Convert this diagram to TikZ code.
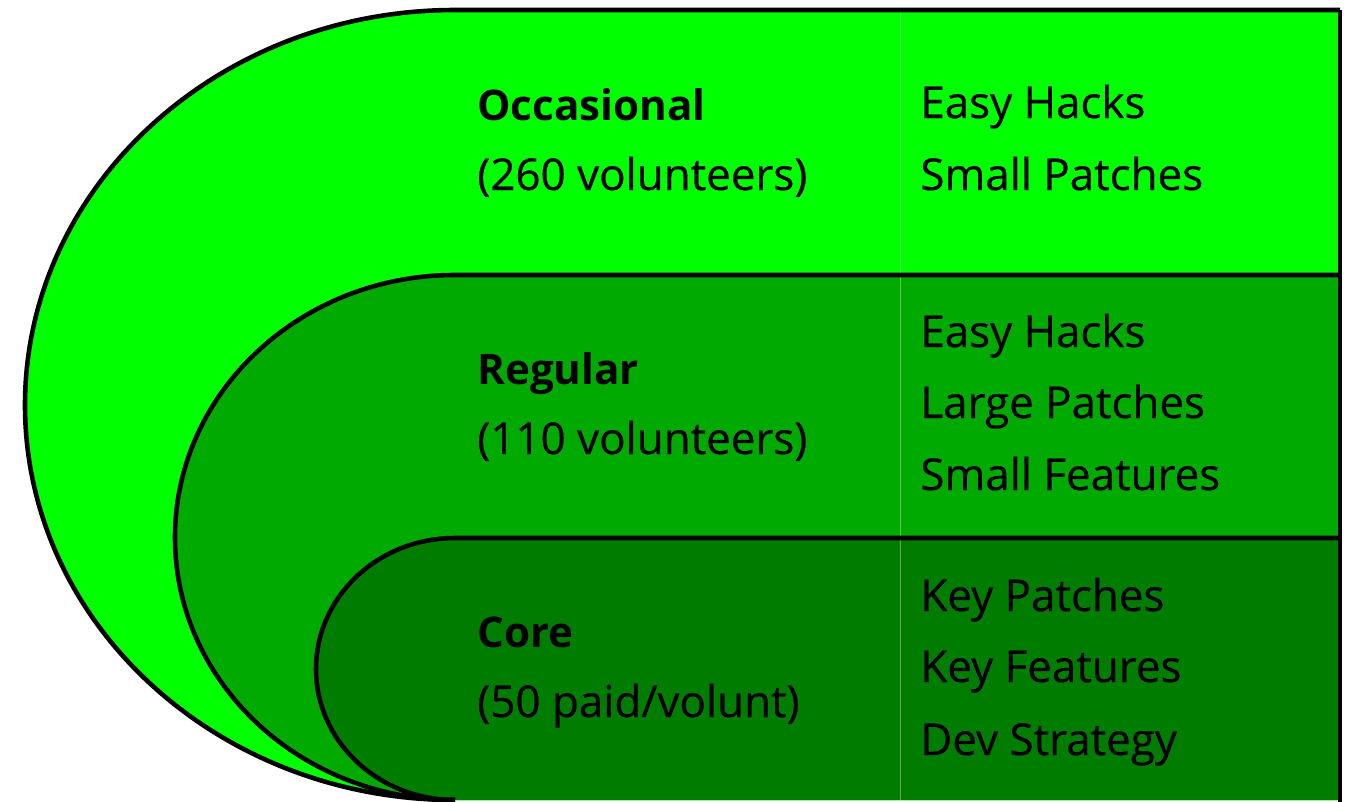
\documentclass[tikz,border=0pt]{standalone}
\usepackage{fontspec}
\setmainfont{Open Sans}
\newfontfamily\plainfont[FakeBold=0.5]{Open Sans}

\definecolor{occgreen}{RGB}{0,255,0}
\definecolor{reggreen}{RGB}{0,170,0}
\definecolor{coregreen}{RGB}{0,125,0}

\begin{document}
\begin{tikzpicture}[x=0.02cm,y=0.02cm,
	band/.style={line width=2.6pt,draw=black},
	group/.style={anchor=base west,inner sep=0pt,font=\plainfont\fontsize{25}{28}\selectfont},
	title/.style={anchor=base west,inner sep=0pt,font=\bfseries\fontsize{24}{28}\selectfont},
	task/.style={anchor=base west,inner sep=0pt,font=\plainfont\fontsize{25}{28}\selectfont}]

	\useasboundingbox (0,0) rectangle (1361,-801);
	\clip (0,0) rectangle (1361,-801);

	%bands
	\fill[occgreen] (1340,-10) -- (455,-10) arc[start angle=90,end angle=270,x radius=430,y radius=395] -- (1340,-800) -- cycle;
	\fill[reggreen] (1340,-275) -- (455,-275) arc[start angle=90,end angle=270,x radius=280,y radius=262.5] -- (1340,-800) -- cycle;
	\fill[coregreen] (1340,-538) -- (455,-538) arc[start angle=90,end angle=270,x radius=139,y radius=131] -- (1340,-800) -- cycle;

	%column divider
	\coordinate (divtop) at (900,-10);
	\coordinate (divbot) at (900,-801);
	\draw[white,opacity=0.35,line width=0.5pt] (divtop) -- (divbot);

	%outlines
	\draw[band] (1340,-10) -- (455,-10) arc[start angle=90,end angle=270,x radius=430,y radius=395];
	\draw[band] (1340,-275) -- (455,-275) arc[start angle=90,end angle=270,x radius=280,y radius=262.5];
	\draw[band] (1340,-538) -- (455,-538) arc[start angle=90,end angle=270,x radius=139,y radius=131];
	\draw[band] (1340,-10) -- (1340,-810);

	%groups
	\node[title] (occ) at (477,-120) {Occasional};
	\node[group] (occN) at (477,-190) {(260 volunteers)};
	\node[title] (reg) at (477,-384) {Regular};
	\node[group] (regN) at (477,-454) {(110 volunteers)};
	\node[title] (core) at (477,-647) {Core};
	\node[group] (coreN) at (477,-717) {(50 paid/volunt)};

	%tasks
	\node[task] (occA) at (920,-118) {Easy Hacks};
	\node[task] (occB) at (920,-190) {Small Patches};
	\node[task] (regA) at (920,-347) {Easy Hacks};
	\node[task] (regB) at (920,-418) {Large Patches};
	\node[task] (regC) at (920,-490) {Small Features};
	\node[task] (coreA) at (920,-611) {Key Patches};
	\node[task] (coreB) at (920,-682) {Key Features};
	\node[task] (coreC) at (920,-755) {Dev Strategy};

\end{tikzpicture}
\end{document}
